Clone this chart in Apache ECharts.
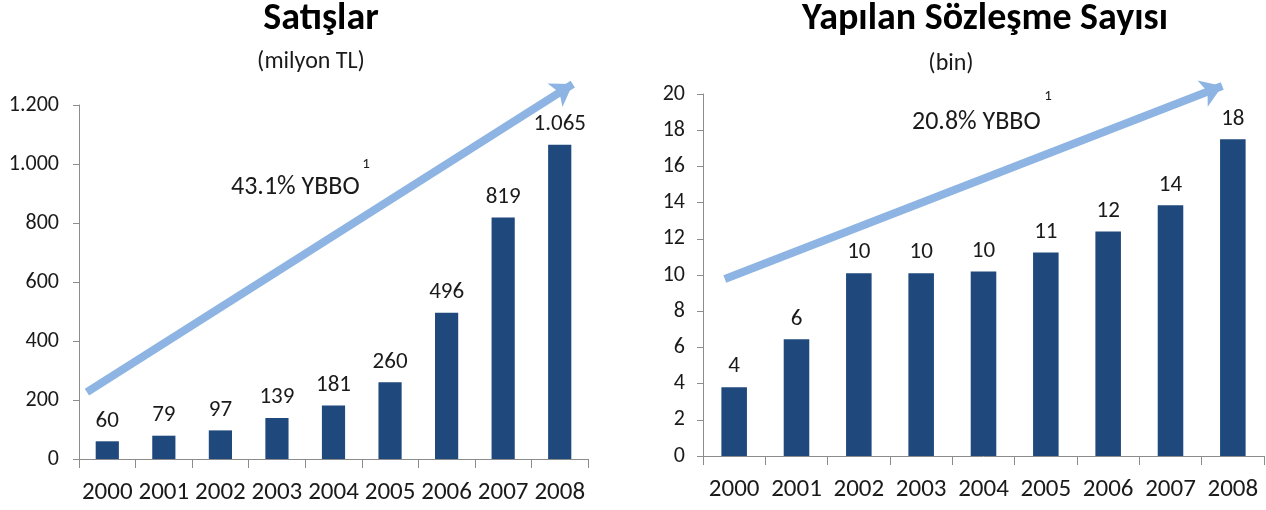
<!DOCTYPE html>
<html>
<head>
<meta charset="utf-8">
<script src="https://cdn.jsdelivr.net/npm/echarts@6/dist/echarts.min.js"></script>
<style>
html,body{margin:0;padding:0;background:#fff;}
#c{width:1266px;height:510px;}
</style>
</head>
<body>
<div id="c"></div>
<script>
// ---- data ----
const years = ['2000','2001','2002','2003','2004','2005','2006','2007','2008'];
const sales = [60, 79, 97, 139, 181, 260, 496, 819, 1065];            // milyon TL
const contracts = [3.8, 6.45, 10.1, 10.1, 10.2, 11.25, 12.4, 13.85, 17.5]; // bin
const salesTicks = [0, 200, 400, 600, 800, 1000, 1200];
const contractTicks = [0, 2, 4, 6, 8, 10, 12, 14, 16, 18, 20];
// trend arrows, in (category position, value) space
const salesTrend = [[0.14, 227], [8.73, 1271]];
const contractTrend = [[0.35, 9.78], [8.33, 20.44]];
const salesTitle = 'Satışlar';
const salesSub = '(milyon TL)';
const salesCagr = '43.1% YBBO';
const contractTitle = 'Yapılan Sözleşme Sayısı';
const contractSub = '(bin)';
const contractCagr = '20.8% YBBO';

const FONT = 'Carlito, Lato, "Open Sans", sans-serif';
const TXT = '#1a1a1a';
const AX = '#8c8c8c';
const BAR = '#1F497D';
const ARROW = '#8DB4E2';

function trFmt(v) {
  return String(Math.round(v)).replace(/\B(?=(\d{3})+(?!\d))/g, '.');
}

function catAxis(gi) {
  return {
    type: 'category', gridIndex: gi, data: years, boundaryGap: true,
    axisLine: { show: true, lineStyle: { color: AX, width: 1 } },
    axisTick: { show: true, alignWithLabel: false, length: 9, lineStyle: { color: AX } },
    axisLabel: { color: TXT, fontFamily: FONT, fontSize: 25, margin: 21, interval: 0 }
  };
}
function hiddenX(gi) {
  return { type: 'value', gridIndex: gi, min: 0, max: 9, show: false };
}
function valAxis(gi, ticks, fmt, margin) {
  return {
    type: 'value', gridIndex: gi, min: ticks[0], max: ticks[ticks.length - 1],
    interval: ticks[1] - ticks[0],
    axisLine: { show: true, lineStyle: { color: AX, width: 1 } },
    axisTick: { show: true, length: 6, lineStyle: { color: AX } },
    splitLine: { show: false },
    axisLabel: { color: TXT, fontFamily: FONT, fontSize: 22, margin: margin, formatter: fmt }
  };
}
function barSeries(gi, data) {
  return {
    type: 'bar', xAxisIndex: gi * 2, yAxisIndex: gi, data: data,
    barWidth: '41%',
    itemStyle: { color: BAR },
    label: { show: true, position: 'top', distance: 9, color: TXT, fontFamily: FONT, fontSize: 23,
             formatter: p => trFmt(p.value) },
    silent: true
  };
}
function arrowSeries(gi, pts) {
  return {
    type: 'lines', coordinateSystem: 'cartesian2d',
    xAxisIndex: gi * 2 + 1, yAxisIndex: gi,
    clip: false, silent: true, z: 5, animation: false,
    symbol: ['none', 'arrow'], symbolSize: 21,
    lineStyle: { color: ARROW, width: 8, type: 'solid', opacity: 1, curveness: 0 },
    effect: { show: false },
    data: [{ coords: pts }]
  };
}

const chart = echarts.init(document.getElementById('c'), null, { renderer: 'canvas' });
chart.setOption({
  animation: false,
  backgroundColor: '#ffffff',
  grid: [
    { left: 79, top: 105, width: 509, height: 354 },
    { left: 703, top: 94, width: 561, height: 362 }
  ],
  xAxis: [catAxis(0), hiddenX(0), catAxis(1), hiddenX(1)],
  yAxis: [
    valAxis(0, salesTicks, v => trFmt(v), 20),
    valAxis(1, contractTicks, v => String(v), 18)
  ],
  series: [
    barSeries(0, sales), arrowSeries(0, salesTrend),
    barSeries(1, contracts), arrowSeries(1, contractTrend)
  ],
  graphic: [
    { type: 'text', x: 321, y: 19, style: { text: salesTitle, font: 'bold 38px ' + FONT, fill: '#000', textAlign: 'center', textVerticalAlign: 'middle' } },
    { type: 'text', x: 311, y: 62, style: { text: salesSub, font: '24px ' + FONT, fill: TXT, textAlign: 'center', textVerticalAlign: 'middle' } },
    { type: 'text', x: 231, y: 187, style: { text: salesCagr, font: '26px ' + FONT, fill: TXT, textAlign: 'left', textVerticalAlign: 'middle' } },
    { type: 'text', x: 366, y: 164, style: { text: '1', font: '15px ' + FONT, fill: TXT, textAlign: 'center', textVerticalAlign: 'middle' } },
    { type: 'text', x: 985, y: 19, style: { text: contractTitle, font: 'bold 38px ' + FONT, fill: '#000', textAlign: 'center', textVerticalAlign: 'middle' } },
    { type: 'text', x: 951, y: 64, style: { text: contractSub, font: '24px ' + FONT, fill: TXT, textAlign: 'center', textVerticalAlign: 'middle' } },
    { type: 'text', x: 912, y: 122, style: { text: contractCagr, font: '26px ' + FONT, fill: TXT, textAlign: 'left', textVerticalAlign: 'middle' } },
    { type: 'text', x: 1048, y: 96, style: { text: '1', font: '15px ' + FONT, fill: TXT, textAlign: 'center', textVerticalAlign: 'middle' } }
  ]
});
</script>
</body>
</html>
